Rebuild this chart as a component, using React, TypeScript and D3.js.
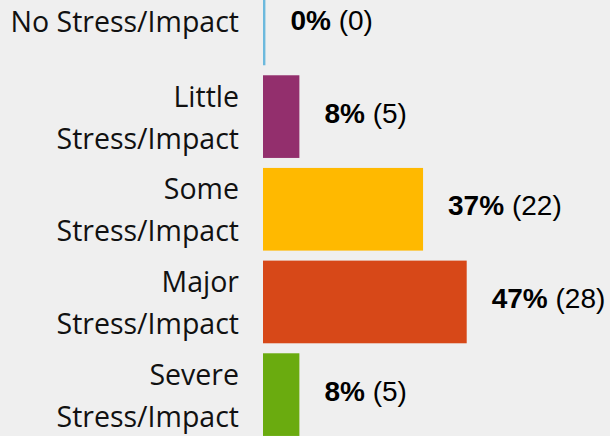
import React from "react";
import * as d3 from "d3";

const categories: string[][] = [
  ["No Stress/Impact"],
  ["Little", "Stress/Impact"],
  ["Some", "Stress/Impact"],
  ["Major", "Stress/Impact"],
  ["Severe", "Stress/Impact"],
];
const counts: number[] = [0, 5, 22, 28, 5];
const percents: number[] = [0, 8, 37, 47, 8];
const colors: string[] = ["#6cb9dd", "#932f6d", "#ffb900", "#d74818", "#6aab0f"];

const W = 610;
const H = 436;

export default function App() {
  const keys = categories.map((c) => c.join(" "));
  const y = d3
    .scaleBand<string>()
    .domain(keys)
    .range([-22.4, -22.4 + 5 * 92.67])
    .paddingInner(0.108)
    .paddingOuter(0.054);
  const x = d3.scaleLinear().domain([0, 28]).range([263, 466.7]);
  const labelFont = "'Open Sans', sans-serif";
  const valueFont = "'Liberation Sans', Arial, sans-serif";

  return (
    <svg
      width={W}
      height={H}
      style={{ position: "fixed", left: 0, top: 0, background: "#efefef" }}
    >
      <rect x={0} y={0} width={W} height={H} fill="#efefef" />
      {keys.map((k, i) => {
        const by = y(k)!;
        const bh = y.bandwidth();
        const cy = by + bh / 2;
        const bw = Math.max(x(counts[i]) - x(0), 2.4);
        const lines = categories[i];
        const lh = 42;
        return (
          <g key={k}>
            <rect x={x(0)} y={by} width={bw} height={bh} fill={colors[i]} />
            <text
              x={239}
              textAnchor="end"
              fontFamily={labelFont}
              fontSize={28.5}
              fill="#111"
            >
              {lines.map((l, j) => (
                <tspan
                  key={j}
                  x={239}
                  y={cy + 8 + (lines.length > 1 ? 3 : 0) + (j - (lines.length - 1) / 2) * lh}
                >
                  {l}
                </tspan>
              ))}
            </text>
            <text
              x={x(0) + bw + 25}
              y={cy + 6}
              fontFamily={valueFont}
              fontSize={28}
              fill="#000"
            >
              <tspan fontWeight="bold">{percents[i]}%</tspan>
              <tspan> ({counts[i]})</tspan>
            </text>
          </g>
        );
      })}
    </svg>
  );
}
